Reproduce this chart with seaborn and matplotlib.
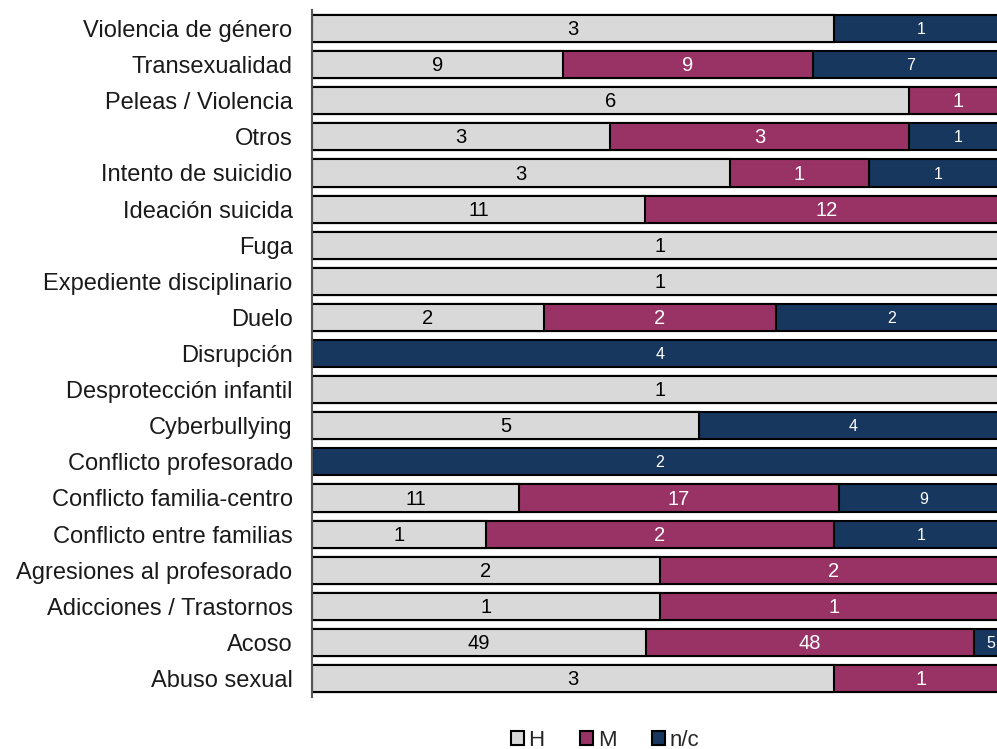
import numpy as np
import pandas as pd
import matplotlib
matplotlib.use("Agg")
import matplotlib.pyplot as plt
import seaborn as sns
from matplotlib.patches import Patch

categories = [
    "Violencia de género", "Transexualidad", "Peleas / Violencia", "Otros",
    "Intento de suicidio", "Ideación suicida", "Fuga", "Expediente disciplinario",
    "Duelo", "Disrupción", "Desprotección infantil", "Cyberbullying",
    "Conflicto profesorado", "Conflicto familia-centro", "Conflicto entre familias",
    "Agresiones al profesorado", "Adicciones / Trastornos", "Acoso", "Abuso sexual",
]
h_vals = [3, 9, 6, 3, 3, 11, 1, 1, 2, 0, 1, 5, 0, 11, 1, 2, 1, 49, 3]
m_vals = [0, 9, 1, 3, 1, 12, 0, 0, 2, 0, 0, 0, 0, 17, 2, 2, 1, 48, 1]
nc_vals = [1, 7, 0, 1, 1, 0, 0, 0, 2, 4, 0, 4, 2, 9, 1, 0, 0, 5, 0]
series = ["H", "M", "n/c"]
colors = {"H": "#d9d9d9", "M": "#993366", "n/c": "#17375e"}
text_colors = {"H": "black", "M": "white", "n/c": "white"}
text_sizes = {"H": 14.5, "M": 14.5, "n/c": 11.5}

df = pd.DataFrame({"cat": categories, "H": h_vals, "M": m_vals, "n/c": nc_vals})
tot = df[series].sum(axis=1)
for s in series:
    df[s + "_p"] = df[s] / tot
df["c1"] = df["H_p"]
df["c2"] = df["H_p"] + df["M_p"]
df["c3"] = df["c2"] + df["n/c_p"]

sns.set_style("white")
plt.rcParams["font.family"] = ["Liberation Sans", "DejaVu Sans"]

fig = plt.figure(figsize=(9.97, 7.49), dpi=100)
ax = fig.add_axes([0.313, 0.070, 0.698, 0.916])

# overlay cumulative bars, widest first
for col, s in [("c3", "n/c"), ("c2", "M"), ("c1", "H")]:
    sns.barplot(data=df, y="cat", x=col, color=colors[s], saturation=1,
                edgecolor="black", linewidth=1.5, width=0.75, ax=ax, orient="h")

# value labels in each segment
for i in range(len(df)):
    left = 0.0
    for s in series:
        v = df.loc[i, s]
        w = df.loc[i, s + "_p"]
        if v > 0:
            ax.text(left + w / 2, i + 0.03, str(v), ha="center", va="center",
                    color=text_colors[s], fontsize=text_sizes[s])
        left += w

ax.set_xlim(0, 1)
ax.set_ylim(len(df) - 0.5, -0.5)
ax.set_xlabel("")
ax.set_ylabel("")
ax.set_xticks([])
ax.tick_params(axis="y", length=0, pad=14, labelsize=17, labelcolor="#1a1a1a")
for sp in ["top", "right", "bottom"]:
    ax.spines[sp].set_visible(False)
ax.spines["left"].set_color("#555555")
ax.spines["left"].set_linewidth(1.5)

handles = [Patch(facecolor=colors[s], edgecolor="black", linewidth=1.5, label=s) for s in series]
fig.legend(handles=handles, loc="center", bbox_to_anchor=(0.607, 0.012), ncol=3,
           frameon=False, fontsize=16, handlelength=0.6, handleheight=0.6,
           handletextpad=0.2, columnspacing=1.6)

fig.savefig("out.png", dpi=100)
